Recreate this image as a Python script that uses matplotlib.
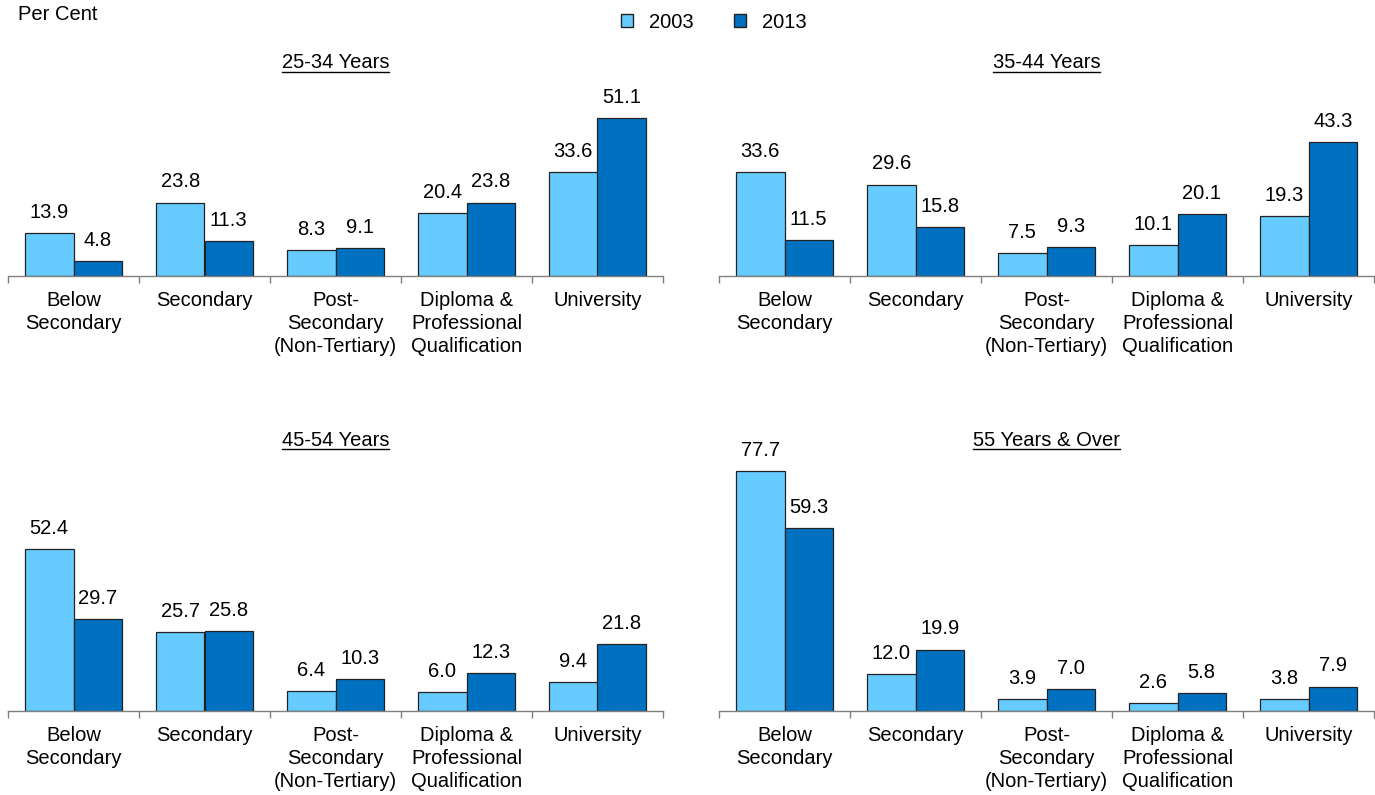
import numpy as np
import matplotlib
matplotlib.use("Agg")
import matplotlib.pyplot as plt
from matplotlib.patches import Patch

plt.rcParams["font.family"] = ["Liberation Sans", "DejaVu Sans"]

categories = ["Below\nSecondary", "Secondary", "Post-\nSecondary\n(Non-Tertiary)",
              "Diploma &\nProfessional\nQualification", "University"]
panel_titles = ["25-34 Years", "35-44 Years", "45-54 Years", "55 Years & Over"]
series_names = ["2003", "2013"]

vals_2003 = [
    [13.9, 23.8, 8.3, 20.4, 33.6],
    [33.6, 29.6, 7.5, 10.1, 19.3],
    [52.4, 25.7, 6.4, 6.0, 9.4],
    [77.7, 12.0, 3.9, 2.6, 3.8],
]
vals_2013 = [
    [4.8, 11.3, 9.1, 23.8, 51.1],
    [11.5, 15.8, 9.3, 20.1, 43.3],
    [29.7, 25.8, 10.3, 12.3, 21.8],
    [59.3, 19.9, 7.0, 5.8, 7.9],
]

C_LIGHT = "#66CCFF"
C_DARK = "#0070C0"
FS = 14.5

W, H = 1375, 795
fig = plt.figure(figsize=(W / 100, H / 100), dpi=100)

# pixel layout: (left, baseline_y) for each panel
layout = [(8, 276), (719, 276), (8, 711), (719, 711)]
title_y = [63, 63, 440, 440]
ax_w, ax_h = 655, 247

x = np.arange(len(categories))
bw = 0.37

titles = []
for i, (lx, by) in enumerate(layout):
    ax = fig.add_axes([lx / W, (H - by) / H, ax_w / W, ax_h / H])
    b1 = ax.bar(x - bw / 2, vals_2003[i], bw, color=C_LIGHT, edgecolor="#222222", linewidth=0.9)
    b2 = ax.bar(x + bw / 2, vals_2013[i], bw, color=C_DARK, edgecolor="#222222", linewidth=0.9)
    for bars in (b1, b2):
        for b in bars:
            ax.annotate(f"{b.get_height():.1f}", (b.get_x() + b.get_width() / 2, b.get_height()),
                        xytext=(0, 8), textcoords="offset points", ha="center", va="bottom",
                        fontsize=FS)
    ax.set_xlim(-0.5, len(categories) - 0.5)
    ax.set_ylim(0, 80)
    for s in ["top", "right", "left"]:
        ax.spines[s].set_visible(False)
    ax.spines["bottom"].set_color("#808080")
    ax.spines["bottom"].set_linewidth(1.0)
    ax.set_yticks([])
    ax.set_xticks(x)
    ax.set_xticklabels(categories, fontsize=FS, linespacing=1.25, va="top")
    ax.tick_params(axis="x", which="major", length=0, pad=11)
    ax.set_xticks(np.arange(len(categories) + 1) - 0.5, minor=True)
    ax.tick_params(axis="x", which="minor", length=5, color="#808080", width=1.0)
    titles.append(fig.text((lx + ax_w / 2) / W, 1 - title_y[i] / H, panel_titles[i],
                           ha="center", va="center", fontsize=FS))

# underline titles
fig.canvas.draw()
r = fig.canvas.get_renderer()
for t in titles:
    bb = t.get_window_extent(r)
    yline = bb.y0 + 1
    fig.add_artist(plt.Line2D([bb.x0 / W, bb.x1 / W], [yline / H, yline / H], color="black",
                              linewidth=1.0, transform=fig.transFigure))

fig.text(18 / W, 1 - 15 / H, "Per Cent", ha="left", va="center", fontsize=FS)

handles = [Patch(facecolor=C_LIGHT, edgecolor="#222222"), Patch(facecolor=C_DARK, edgecolor="#222222")]
fig.legend(handles, series_names, loc="center", bbox_to_anchor=(714 / W, 1 - 22 / H),
           ncol=2, frameon=False, fontsize=FS, handlelength=0.6, handleheight=0.6,
           handletextpad=0.8, columnspacing=2.0)

fig.savefig("out.png", dpi=100)
